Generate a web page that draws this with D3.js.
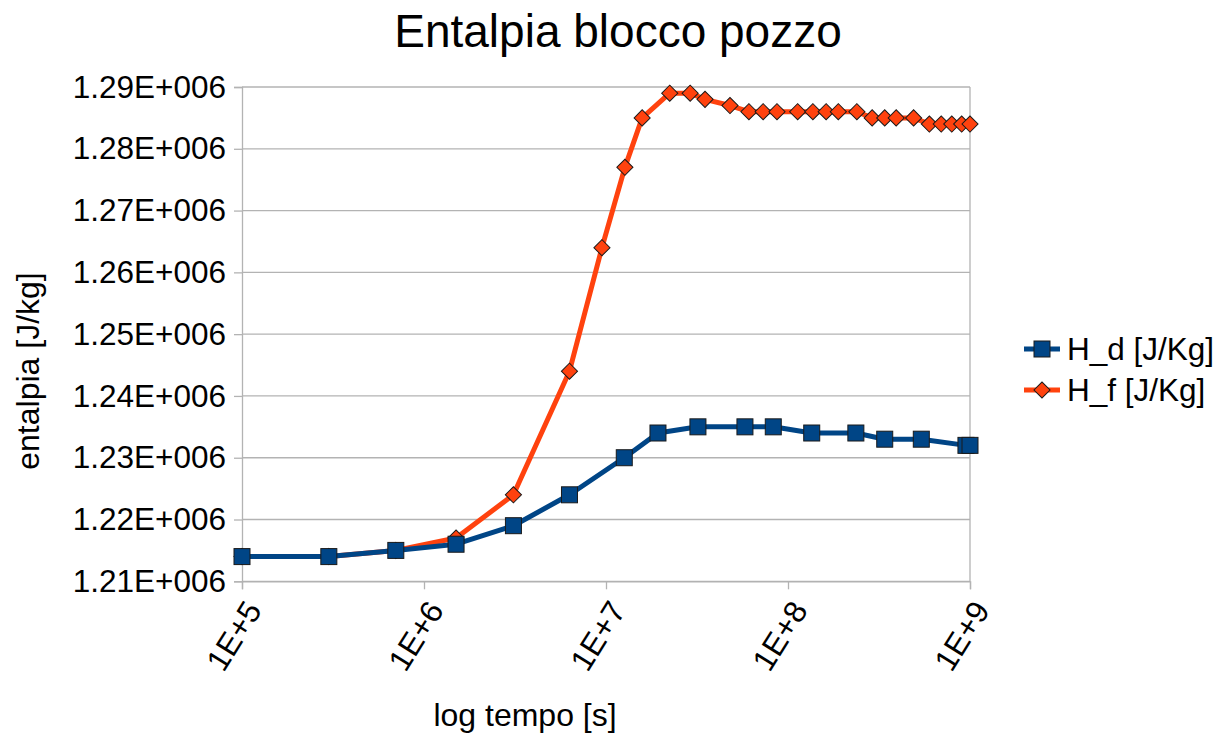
<!DOCTYPE html>
<html>
<head>
<meta charset="utf-8">
<script src="https://cdn.jsdelivr.net/npm/d3@7"></script>
<style>
  html, body { margin: 0; padding: 0; background: #fff; }
  svg { display: block; font-family: "Liberation Sans", Arial, sans-serif; }
</style>
</head>
<body>
<svg id="chart" width="1228" height="733"></svg>
<script>
// ---- data ----
const timeD = [1e5, 3e5, 7e5, 1.5e6, 3.1e6, 6.3e6, 1.26e7, 1.93e7, 3.2e7, 5.8e7, 8.3e7, 1.35e8, 2.36e8, 3.4e8, 5.4e8, 9.5e8, 1e9];
const valueD = [1214000, 1214000, 1215000, 1216000, 1219000, 1224000, 1230000, 1234000, 1235000, 1235000, 1235000, 1234000, 1234000, 1233000, 1233000, 1232000, 1232000];

const timeF = [1e5, 3e5, 7e5, 1.5e6, 3.1e6, 6.3e6, 9.5e6, 1.27e7, 1.58e7, 2.24e7, 2.9e7, 3.5e7, 4.8e7, 6.1e7, 7.3e7, 8.7e7, 1.13e8, 1.37e8, 1.62e8, 1.89e8, 2.39e8, 2.9e8, 3.4e8, 3.93e8, 4.9e8, 5.98e8, 6.95e8, 7.94e8, 9.0e8, 1e9];
const valueF = [1214000, 1214000, 1215000, 1217000, 1224000, 1244000, 1264000, 1277000, 1285000, 1289000, 1289000, 1288000, 1287000, 1286000, 1286000, 1286000, 1286000, 1286000, 1286000, 1286000, 1286000, 1285000, 1285000, 1285000, 1285000, 1284000, 1284000, 1284000, 1284000, 1284000];

const xTicks = [1e5, 1e6, 1e7, 1e8, 1e9];
const xTickLabels = ["1E+5", "1E+6", "1E+7", "1E+8", "1E+9"];
const yTicks = [1210000, 1220000, 1230000, 1240000, 1250000, 1260000, 1270000, 1280000, 1290000];
const yTickLabels = ["1.21E+006", "1.22E+006", "1.23E+006", "1.24E+006", "1.25E+006", "1.26E+006", "1.27E+006", "1.28E+006", "1.29E+006"];

const seriesNames = ["H_d [J/Kg]", "H_f [J/Kg]"];
const titleText = "Entalpia blocco pozzo";
const xTitle = "log tempo [s]";
const yTitle = "entalpia [J/kg]";

// ---- layout ----
const pLeft = 242, pRight = 970, pTop = 87, pBottom = 581.3;
const blue = "#004586", orange = "#ff420e";

const svg = d3.select("#chart");
const x = d3.scaleLog().domain([1e5, 1e9]).range([pLeft, pRight]);
const y = d3.scaleLinear().domain([1210000, 1290000]).range([pBottom, pTop]);

// gridlines
svg.append("g").selectAll("line").data(yTicks).join("line")
  .attr("x1", pLeft).attr("x2", pRight)
  .attr("y1", d => y(d)).attr("y2", d => y(d))
  .attr("stroke", "#b3b3b3").attr("stroke-width", 1.3);

// right border
svg.append("line").attr("x1", pRight).attr("x2", pRight).attr("y1", pTop).attr("y2", pBottom)
  .attr("stroke", "#b3b3b3").attr("stroke-width", 1.3);

// y axis
const yAxis = d3.axisLeft(y).tickValues(yTicks).tickSize(8).tickPadding(8)
  .tickFormat((d, i) => yTickLabels[i]);
const gy = svg.append("g").attr("transform", `translate(${pLeft},0)`).call(yAxis);
gy.select(".domain").attr("stroke", "#b3b3b3").attr("stroke-width", 1.3);
gy.selectAll(".tick line").attr("stroke", "#b3b3b3").attr("stroke-width", 1.3);
gy.selectAll(".tick text").attr("font-size", 31.5).attr("fill", "#000")
  .attr("font-family", "Liberation Sans, Arial, sans-serif");

// x axis
const xAxis = d3.axisBottom(x).tickValues(xTicks).tickSize(8).tickPadding(6)
  .tickFormat((d, i) => xTickLabels[i]);
const gx = svg.append("g").attr("transform", `translate(0,${pBottom})`).call(xAxis);
gx.select(".domain").attr("stroke", "#b3b3b3").attr("stroke-width", 1.3);
gx.selectAll(".tick line").attr("stroke", "#b3b3b3").attr("stroke-width", 1.3);
gx.selectAll(".tick text").attr("font-size", 31.5).attr("fill", "#000")
  .attr("font-family", "Liberation Sans, Arial, sans-serif")
  .attr("text-anchor", "end").attr("dy", "0.35em")
  .attr("transform", "translate(11,23) rotate(-58)")
  .attr("y", 0).attr("x", 0);

// lines
const dataD = timeD.map((t, i) => ({t, v: valueD[i]}));
const dataF = timeF.map((t, i) => ({t, v: valueF[i]}));
const line = d3.line().x(d => x(d.t)).y(d => y(d.v));

svg.append("path").datum(dataF).attr("d", line).attr("fill", "none")
  .attr("stroke", orange).attr("stroke-width", 5).attr("stroke-linejoin", "round");
svg.append("g").selectAll("path").data(dataF).join("path")
  .attr("d", d3.symbol(d3.symbolSquare, 130)())
  .attr("transform", d => `translate(${x(d.t)},${y(d.v)}) rotate(45)`)
  .attr("fill", orange).attr("stroke", "#1a1a1a").attr("stroke-width", 1);

svg.append("path").datum(dataD).attr("d", line).attr("fill", "none")
  .attr("stroke", blue).attr("stroke-width", 5).attr("stroke-linejoin", "round");
svg.append("g").selectAll("rect").data(dataD).join("rect")
  .attr("x", d => x(d.t) - 8).attr("y", d => y(d.v) - 8)
  .attr("width", 16).attr("height", 16)
  .attr("fill", blue).attr("stroke", "#1a1a1a").attr("stroke-width", 1);

// title
svg.append("text").attr("x", 618).attr("y", 47).attr("text-anchor", "middle")
  .attr("font-size", 46).attr("fill", "#000").text(titleText);

// axis titles
svg.append("text").attr("x", 525).attr("y", 726).attr("text-anchor", "middle")
  .attr("font-size", 32).attr("fill", "#000").text(xTitle);
svg.append("text").attr("transform", "translate(39,371) rotate(-90)").attr("text-anchor", "middle")
  .attr("font-size", 32).attr("fill", "#000").text(yTitle);

// legend
const legendY = [349, 390];
const leg = svg.append("g");
leg.append("line").attr("x1", 1024).attr("x2", 1060).attr("y1", legendY[0]).attr("y2", legendY[0])
  .attr("stroke", blue).attr("stroke-width", 5);
leg.append("rect").attr("x", 1042 - 8).attr("y", legendY[0] - 8).attr("width", 16).attr("height", 16)
  .attr("fill", blue).attr("stroke", "#1a1a1a").attr("stroke-width", 1);
leg.append("line").attr("x1", 1024).attr("x2", 1060).attr("y1", legendY[1]).attr("y2", legendY[1])
  .attr("stroke", orange).attr("stroke-width", 5);
leg.append("path").attr("d", d3.symbol(d3.symbolSquare, 130)())
  .attr("transform", `translate(1042,${legendY[1]}) rotate(45)`)
  .attr("fill", orange).attr("stroke", "#1a1a1a").attr("stroke-width", 1);
leg.selectAll("text").data(seriesNames).join("text")
  .attr("x", 1067).attr("y", (d, i) => legendY[i] + 11)
  .attr("font-size", 31.5).attr("fill", "#000").text(d => d);
</script>
</body>
</html>
